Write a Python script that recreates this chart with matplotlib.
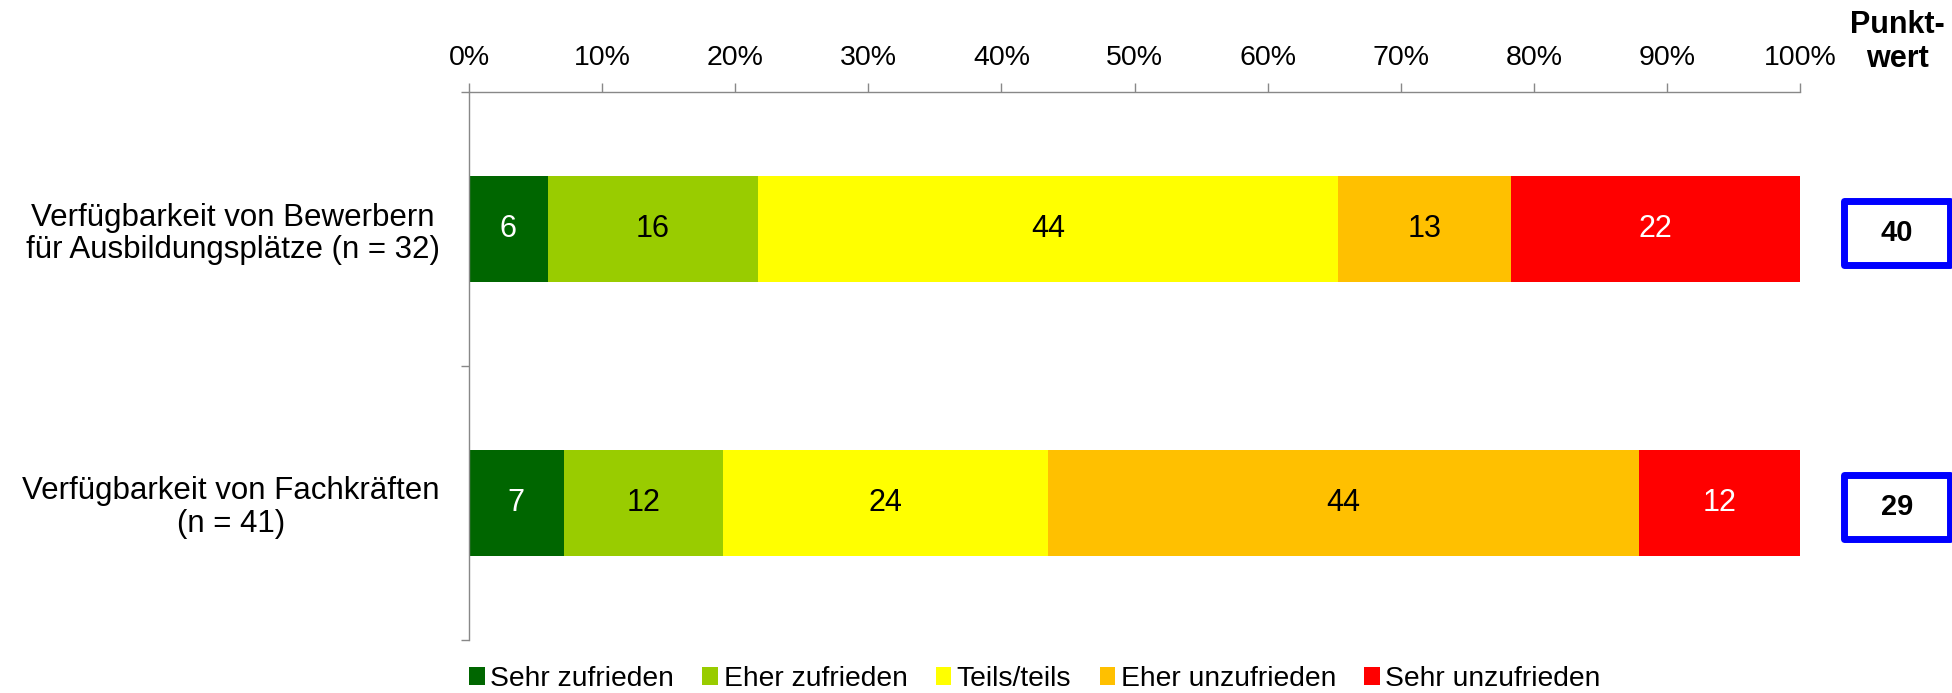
"""Zufriedenheit mit der Verfügbarkeit von Bewerbern und Fachkräften."""
import matplotlib
matplotlib.use("Agg")
from matplotlib import pyplot as plt
from matplotlib.patches import Patch, Rectangle

plt.rcParams['font.family'] = ['Liberation Sans', 'DejaVu Sans']

categories = [
    "Verfügbarkeit von Bewerbern\nfür Ausbildungsplätze (n = 32)",
    "Verfügbarkeit von Fachkräften\n(n = 41)",
]
series_names = ["Sehr zufrieden", "Eher zufrieden", "Teils/teils",
                "Eher unzufrieden", "Sehr unzufrieden"]
# Anteile in Prozent je Kategorie (Reihenfolge wie series_names)
shares = [
    [5.9, 15.8, 43.6, 13.0, 21.7],
    [7.1, 12.0, 24.4, 44.4, 12.1],
]
punktwert = [40, 29]
x_ticks = list(range(0, 101, 10))

colors = ["#006600", "#99CC00", "#FFFF00", "#FFC000", "#FF0000"]
label_colors = ["white", "black", "black", "black", "white"]
axis_grey = "#888888"

fig = plt.figure(figsize=(19.52, 6.93), dpi=100)
ax = fig.add_axes([0.2403, 0.0765, 0.6819, 0.7907])

# obere Kategorie oben zeichnen
y_pos = [1.5, 0.5]
bar_h = 0.387

for row, y in zip(shares, y_pos):
    left = 0
    for i, val in enumerate(row):
        ax.barh(y, val, left=left, height=bar_h, color=colors[i],
                edgecolor="none")
        ax.text(left + val / 2, y, f"{val:.0f}", ha="center", va="center",
                fontsize=22, color=label_colors[i])
        left += val

ax.set_xlim(0, 100)
ax.set_ylim(0, 2)

ax.xaxis.tick_top()
ax.set_xticks(x_ticks)
ax.set_xticklabels([f"{t}%" for t in x_ticks], fontsize=20.5)
ax.tick_params(axis="x", direction="out", length=6.5, width=1.0,
               color=axis_grey, pad=9)

ax.set_yticks([0, 1, 2])
ax.set_yticklabels([])
ax.tick_params(axis="y", which="major", direction="out", length=6,
               width=1.0, color=axis_grey)
ax.set_yticks(y_pos, minor=True)
ax.set_yticklabels(categories, minor=True, fontsize=22.5,
                   multialignment="center", linespacing=1.12)
ax.tick_params(axis="y", which="minor", length=0, pad=21)

for side in ("right", "bottom"):
    ax.spines[side].set_visible(False)
for side in ("left", "top"):
    ax.spines[side].set_color(axis_grey)
    ax.spines[side].set_linewidth(1.0)

# Punktwert-Kästen rechts neben den Balken
trans = ax.get_yaxis_transform()
box_w = 0.0795
box_h = 0.232
box_x = 1.0729
box_shift = 0.015
for val, y in zip(punktwert, y_pos):
    yc = y - box_shift
    ax.add_patch(Rectangle((box_x - box_w / 2, yc - box_h / 2), box_w, box_h,
                           transform=trans, facecolor="white",
                           edgecolor="#0000FF", linewidth=5,
                           joinstyle="round", clip_on=False))
    ax.text(box_x, yc, str(val), transform=trans, ha="center", va="center",
            fontsize=21, fontweight="bold", clip_on=False)

fig.text(1897 / 1952, 1 - 42 / 693, "Punkt-\nwert", ha="center",
         va="center", fontsize=22, fontweight="bold", linespacing=1.15)

handles = [Patch(facecolor=c, edgecolor="none") for c in colors]
fig.legend(handles, series_names, loc="center", ncol=5, frameon=False,
           bbox_to_anchor=(1035 / 1952, 1 - 679 / 693), fontsize=20.3,
           handlelength=0.55, handleheight=0.6, handletextpad=0.2,
           columnspacing=1.0, borderpad=0, borderaxespad=0)

fig.savefig("out.png", dpi=100)
